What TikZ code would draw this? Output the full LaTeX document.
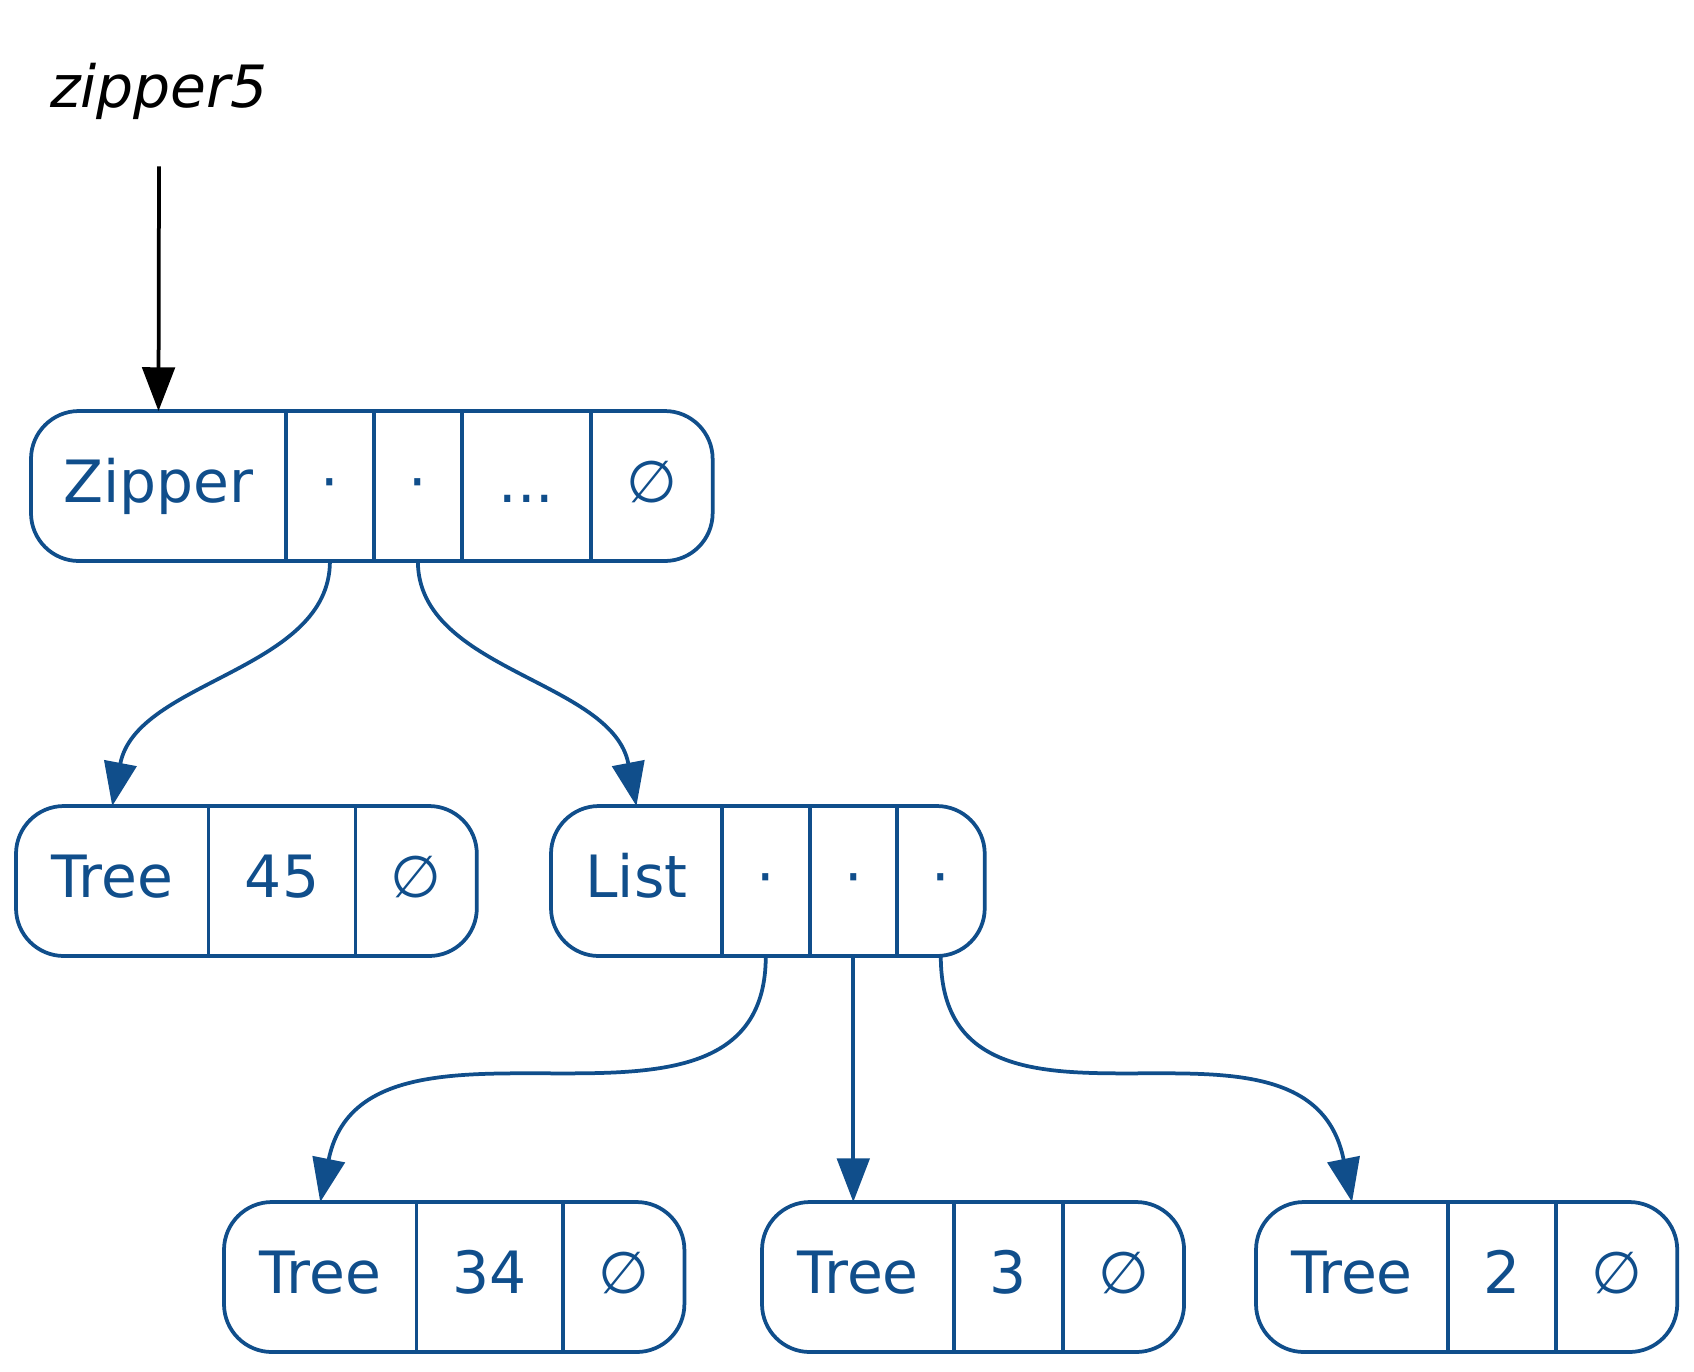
\documentclass[tikz,border=0pt]{standalone}
\usepackage{fontspec}
\setmainfont{DejaVu Sans}
\usepackage{xcolor}
\usetikzlibrary{positioning,arrows.meta}
\definecolor{recblue}{RGB}{16,78,139}

\begin{document}
\begin{tikzpicture}[>={Triangle[length=10.5pt,width=7.8pt]}, x=0.24pt, y=-0.24pt, line width=0.9pt]
        \tikzstyle{field}=[inner sep=0pt, outer sep=0pt, minimum height=36pt, text height=10pt, text depth=2.32pt, text=recblue, font=\fontsize{14}{16}\selectfont]
        \tikzstyle{rec}=[draw=recblue, rounded corners=11.5pt]
        \tikzstyle{edge}=[draw=recblue, ->]
        \useasboundingbox (0,0) rectangle (1694,1371);
        % label
        \node[anchor=base, inner sep=0pt, font=\itshape\fontsize{14}{16}\selectfont] (lbl) at (159,107) {zipper5};
        % zipper record
        \node[field, anchor=west, minimum width=61.2pt] (zipper) at (31,486) {Zipper};
        \node[field, minimum width=21.1pt, right=0pt of zipper] (zl) {·};
        \node[field, minimum width=21.1pt, right=0pt of zl] (zr) {·};
        \node[field, minimum width=31pt, right=0pt of zr] (zdots) {...};
        \node[field, minimum width=29.2pt, right=0pt of zdots] (znil) {∅};
        \draw[rec] (zipper.north west) rectangle (znil.south east);
        \draw[recblue] (zl.north west) -- (zl.south west) (zr.north west) -- (zr.south west)
            (zdots.north west) -- (zdots.south west) (znil.north west) -- (znil.south west);
        % second row
        \node[field, anchor=west, minimum width=46.2pt] (t45) at (16,881) {Tree};
        \node[field, minimum width=35.3pt, right=0pt of t45] (v45) {45};
        \node[field, minimum width=29.1pt, right=0pt of v45] (n45) {∅};
        \draw[rec] (t45.north west) rectangle (n45.south east);
        \draw[recblue] (v45.north west) -- (v45.south west) (n45.north west) -- (n45.south west);
        \node[field, anchor=west, minimum width=41pt] (lst) at (551,881) {List};
        \node[field, minimum width=21.1pt, right=0pt of lst] (l1) {·};
        \node[field, minimum width=20.9pt, right=0pt of l1] (l2) {·};
        \node[field, minimum width=21.1pt, right=0pt of l2] (l3) {·};
        \draw[rec] (lst.north west) rectangle (l3.south east);
        \draw[recblue] (l1.north west) -- (l1.south west) (l2.north west) -- (l2.south west)
            (l3.north west) -- (l3.south west);
        % third row
        \node[field, anchor=west, minimum width=46.2pt] (t34) at (224,1277) {Tree};
        \node[field, minimum width=35.1pt, right=0pt of t34] (v34) {34};
        \node[field, minimum width=29.2pt, right=0pt of v34] (n34) {∅};
        \draw[rec] (t34.north west) rectangle (n34.south east);
        \draw[recblue] (v34.north west) -- (v34.south west) (n34.north west) -- (n34.south west);
        \node[field, anchor=west, minimum width=46.1pt] (t3) at (762,1277) {Tree};
        \node[field, minimum width=26.1pt, right=0pt of t3] (v3) {3};
        \node[field, minimum width=29.1pt, right=0pt of v3] (n3) {∅};
        \draw[rec] (t3.north west) rectangle (n3.south east);
        \draw[recblue] (v3.north west) -- (v3.south west) (n3.north west) -- (n3.south west);
        \node[field, anchor=west, minimum width=46.1pt] (t2) at (1256,1277) {Tree};
        \node[field, minimum width=25.9pt, right=0pt of t2] (v2) {2};
        \node[field, minimum width=29.1pt, right=0pt of v2] (n2) {∅};
        \draw[rec] (t2.north west) rectangle (n2.south east);
        \draw[recblue] (v2.north west) -- (v2.south west) (n2.north west) -- (n2.south west);
        % edges
        \draw[->] ([yshift=-10.9pt]lbl.south) -- (zipper.north);
        \draw[edge] (zl.south) .. controls +(0,110) and +(24,-126) .. (t45.north);
        \draw[edge] (zr.south) .. controls +(0,110) and +(-24,-126) .. (lst.north);
        \draw[edge] (l1.south) .. controls +(0,225) and +(45,-226) .. (t34.north);
        \draw[edge] (l2.south) -- (l2.south |- t3.north);
        \draw[edge] (l3.south) .. controls +(0,225) and +(-45,-226) .. (t2.north);
    \end{tikzpicture}
\end{document}
